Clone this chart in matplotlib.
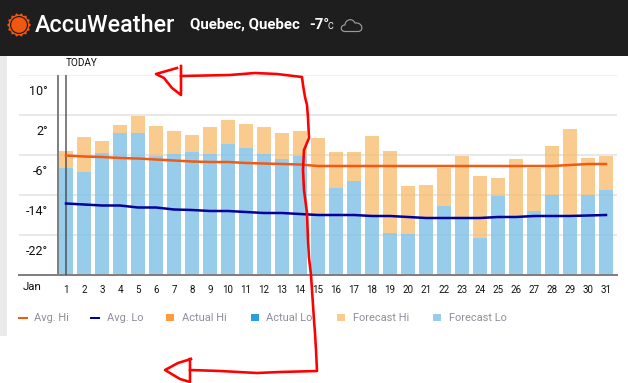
import numpy as np
import matplotlib
matplotlib.use("Agg")
import matplotlib.pyplot as plt
from matplotlib.patches import Circle, Polygon, Rectangle, PathPatch
from matplotlib.path import Path
from matplotlib.transforms import ScaledTranslation

days = list(range(1, 32))
forecast_hi = [-5.2, -2.4, -3.2, 0, 1.8, -0.2, -1.2, -2, -0.4, 1, 0.2, -0.4, -1.6, -1.2, -2.6, -5.4,
               -5.4, -2.2, -5.2, -12.2, -12, -8.6, -6.2, -10.2, -10.6, -6.8, -8.6, -4.2, -0.8, -6.6, -6.2]
forecast_lo = [-8.6, -9.4, -5.6, -1.6, -1.6, -6.2, -5.8, -5.4, -5.8, -3.8, -4.6, -5.8, -6.8, -6.2, -17.8, -12.6,
               -11.2, -18, -21.6, -21.8, -18.6, -16.2, -18.6, -22.6, -14.2, -18.4, -17.2, -14, -18.6, -14, -13]
avg_hi = [-6.1, -6.3, -6.4, -6.6, -6.7, -6.9, -7.1, -7.3, -7.4, -7.4, -7.6, -7.7, -7.8, -7.9, -8.2, -8.2,
          -8.2, -8.2, -8.2, -8.2, -8.2, -8.2, -8.2, -8.2, -8.2, -8.2, -8.2, -8.2, -8.0, -7.8, -7.8]
avg_lo = [-15.7, -15.9, -16.1, -16.1, -16.5, -16.5, -16.9, -17, -17.2, -17.2, -17.4, -17.6, -17.6, -17.8, -18, -18,
          -18, -18.2, -18.2, -18.4, -18.6, -18.6, -18.6, -18.6, -18.4, -18.4, -18.2, -18.2, -18.2, -18.1, -18]
y_ticks = [-30, -22, -14, -6, 2, 10]
y_labels = ["", "-22°", "-14°", "-6°", "2°", "10°"]
legend_items = ["Avg. Hi", "Avg. Lo", "Actual Hi", "Actual Lo", "Forecast Hi", "Forecast Lo"]

W, H = 628, 383
FONT = "Roboto"
px = 0.72
ORANGE, BLUE = "#F9CB8F", "#97CDEB"
RED = "#FF0000"

fig = plt.figure(figsize=(W / 100, H / 100), dpi=100, facecolor="white")

# page overlay in pixel coordinates
bg = fig.add_axes([0, 0, 1, 1], zorder=0)
bg.set_xlim(0, W); bg.set_ylim(H, 0); bg.axis("off")
bg.add_patch(Rectangle((0, 0), W, 56, color="#1E1E1E", lw=0))
bg.add_patch(Rectangle((0, 56), 7, 280, color="#EAEAEA", lw=0))

# chart
ax = fig.add_axes([19 / W, 1 - 275 / H, 598 / W, 200 / H], zorder=1)
ax.patch.set_alpha(0)
ax.set_xlim(1 - 47 / 18, 1 + 551 / 18)
ax.set_ylim(-30, 10)
for s in ax.spines.values():
    s.set_visible(False)
ax.set_yticks(y_ticks, y_labels, fontsize=12.5 * px, family=FONT, color="#111111")
ax.set_xticks(days, [str(d) for d in days], fontsize=9.8 * px, family=FONT, color="#111111")
ax.tick_params(length=0, pad=0)
ax.tick_params(axis="x", pad=7)
off = ScaledTranslation(29 / 100, -15 / 100, fig.dpi_scale_trans)
for lab in ax.get_yticklabels():
    lab.set_transform(lab.get_transform() + off)
ax.grid(axis="y", color="#EFEFEF", lw=2 * px, zorder=0)
ax.set_axisbelow(True)

lo = np.array(forecast_lo); hi = np.array(forecast_hi)
ax.bar(days, lo + 30, bottom=-30, width=14 / 18, color=BLUE, lw=0, zorder=2)
ax.bar(days, hi - lo, bottom=lo, width=14 / 18, color=ORANGE, lw=0, zorder=2)
for t in y_ticks[1:-1]:
    ax.axhline(t, color="#7A7A7A", alpha=0.06, lw=2 * px, zorder=3)
ax.axhline(-30, color="#808080", lw=2 * px, zorder=3, clip_on=False)
ax.axvline(1 - 8 / 18, color="#808080", lw=2 * px, zorder=4)
ax.axvline(1, color="#3F3F3F", alpha=0.65, lw=2 * px, zorder=4)
ax.plot(days, avg_hi, color="#F25A14", lw=2.5 * px, zorder=5)
ax.plot(days, avg_lo, color="#00009A", lw=2.5 * px, zorder=5)

# texts on overlay above chart
top = fig.add_axes([0, 0, 1, 1], zorder=2)
top.set_xlim(0, W); top.set_ylim(H, 0); top.axis("off"); top.patch.set_alpha(0)
top.text(66, 63, "TODAY", fontsize=10 * px, family=FONT, color="#111111", va="center")
top.text(23, 287.5, "Jan", fontsize=11.5 * px, family=FONT, color="#111111", va="center")

# legend
lg = "#8E8E9A"
top.plot([19, 27], [318, 318], color="#F25A14", lw=2 * px)
top.plot([91, 99], [318, 318], color="#00009A", lw=2 * px)
for x, c in [(166, "#FF9A3D"), (251, "#2A9FDB"), (337, ORANGE), (433, BLUE)]:
    top.add_patch(Rectangle((x, 314), 8, 7, color=c, lw=0))
for x, s in zip([34.5, 107, 182, 266.5, 353, 449], legend_items):
    top.text(x, 318, s, fontsize=11 * px, family=FONT, color=lg, va="center")

# header
top.text(34.5, 25.5, "AccuWeather", fontsize=23.4 * px, family=FONT, weight="medium", color="white", va="center")
top.text(190, 25, "Quebec, Quebec", fontsize=15 * px, family=FONT, weight="bold", color="white", va="center")
top.text(309, 25, "-7°", fontsize=15 * px, family=FONT, weight="bold", color="white", va="center")
top.text(328, 26.5, "C", fontsize=9 * px, family=FONT, color="white", va="center")

# sun logo
sun = "#F0570F"
n = 14
ang = np.linspace(0, 2 * np.pi, 2 * n, endpoint=False)
r = np.where(np.arange(2 * n) % 2 == 0, 12, 10)
top.add_patch(Polygon(np.c_[19 + r * np.cos(ang), 25 + r * np.sin(ang)], color=sun, lw=0))
top.add_patch(Circle((19, 25), 9, color="#1E1E1E", lw=0))
top.add_patch(Circle((19, 25), 7.8, color=sun, lw=0))

# cloud outline
cl = [(Path.MOVETO, (345, 31.5)), (Path.CURVE4, (340, 31.5)), (Path.CURVE4, (340, 25)), (Path.CURVE4, (345, 25)),
      (Path.CURVE4, (345, 20)), (Path.CURVE4, (352, 17)), (Path.CURVE4, (355, 23)),
      (Path.CURVE4, (363, 22)), (Path.CURVE4, (364, 31.5)), (Path.CURVE4, (358, 31.5)),
      (Path.CLOSEPOLY, (345, 31.5))]
codes, verts = zip(*cl)
top.add_patch(PathPatch(Path(verts, codes), fc="none", ec="#9A9A9A", lw=1.2 * px))

# hand-drawn red annotation
upper = [(181, 66), (181, 95), (172, 88), (164, 78), (156, 74), (177, 68)]
lower = [(190, 359), (190, 382), (180, 379), (165, 370), (178, 363), (191, 359)]
trace = [(181, 76), (230, 75), (255, 73), (277, 74), (302, 77), (303, 85), (305, 97), (307, 105), (308, 118),
         (309, 138), (304, 150), (303, 170), (304, 190), (307, 213), (308, 240), (309, 258), (311, 275), (313, 305),
         (314, 320), (315, 333), (316, 350), (317, 371), (280, 372), (257, 373), (220, 371), (190, 370)]
for pts in (upper, lower, trace):
    xs, ys = zip(*pts)
    top.plot(xs, ys, color=RED, lw=2.6 * px, solid_joinstyle="round")

fig.savefig("out.png", dpi=100, facecolor="white")
